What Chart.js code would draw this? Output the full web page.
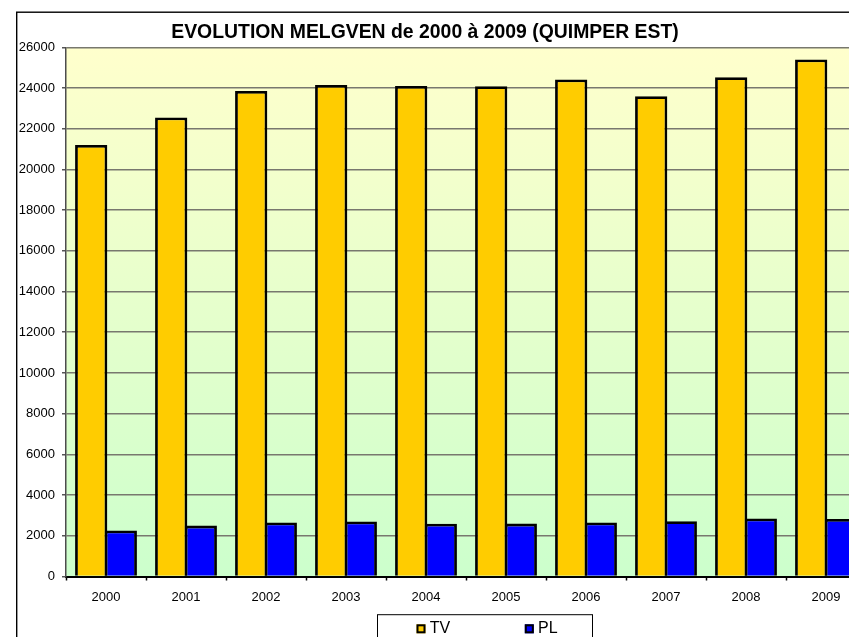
<!DOCTYPE html>
<html lang="fr">
<head>
<meta charset="utf-8">
<title>Evolution Melgven 2000 - 2009</title>
<script src="https://cdn.jsdelivr.net/npm/chart.js@4/dist/chart.umd.min.js"></script>
<style>
  html, body { margin: 0; padding: 0; background: #ffffff; }
  #frame { width: 849px; height: 637px; overflow: hidden; position: relative; }
  canvas { display: block; }
</style>
</head>
<body>
<div id="frame"><canvas id="chart" width="900" height="660"></canvas></div>
<script>
// Daily traffic counts, Melgven (Quimper Est)
const years = ['2000', '2001', '2002', '2003', '2004', '2005', '2006', '2007', '2008', '2009'];
const tvCounts = [21200, 22550, 23850, 24150, 24100, 24090, 24420, 23600, 24530, 25400]; // all vehicles
const plCounts = [2260, 2500, 2650, 2700, 2590, 2600, 2650, 2720, 2850, 2830];           // heavy goods vehicles
const yTickValues = [0, 2000, 4000, 6000, 8000, 10000, 12000, 14000, 16000, 18000, 20000, 22000, 24000, 26000];
const seriesNames = ['TV', 'PL'];
const seriesColors = ['#FFCC00', '#0000FF'];

const FONT = '"Liberation Sans", Arial, Helvetica, sans-serif';
Chart.defaults.font.family = FONT;
Chart.defaults.color = '#000000';

// Yellow-to-green fill behind the plot area (painted before grid and bars)
const plotBackground = {
  id: 'plotBackground',
  beforeDraw(chart) {
    const { ctx, chartArea: a } = chart;
    const g = ctx.createLinearGradient(0, a.top, 0, a.bottom);
    g.addColorStop(0, '#FFFFCC');
    g.addColorStop(1, '#CCFFCC');
    ctx.save();
    ctx.fillStyle = g;
    ctx.fillRect(a.left, a.top, a.right - a.left, a.bottom - a.top);
    ctx.restore();
  }
};

// Thin black frame around the whole chart
const outerFrame = {
  id: 'outerFrame',
  afterDraw(chart) {
    const { ctx, width, height } = chart;
    ctx.save();
    ctx.strokeStyle = '#000000';
    ctx.lineWidth = 1.4;
    ctx.strokeRect(16.7, 12.2, width, height);
    ctx.restore();
  }
};

// Title sits a little left of the plot centre
const TITLE_CENTER_X = 425;
const titleOffset = {
  id: 'titleOffset',
  afterLayout(chart) {
    const t = chart.titleBlock;
    if (!t) return;
    const w = t.right - t.left;
    t.left = TITLE_CENTER_X - w / 2;
    t.right = t.left + w;
  }
};

// Boxed legend under the axis
const LEGEND_BOX = { left: 377.5, top: 614.7, width: 215, firstItem: 39, itemStep: 108.3, swatch: 9, fontSize: 16 };
const boxedLegend = {
  id: 'boxedLegend',
  afterDraw(chart) {
    const { ctx } = chart;
    const L = LEGEND_BOX;
    ctx.save();
    ctx.fillStyle = '#ffffff';
    ctx.fillRect(L.left, L.top, L.width, 40);
    ctx.strokeStyle = '#000000';
    ctx.lineWidth = 1;
    ctx.strokeRect(L.left, L.top, L.width, 40);
    const baseY = L.top + 18.6;
    ctx.font = L.fontSize + 'px ' + FONT;
    ctx.textBaseline = 'alphabetic';
    ctx.textAlign = 'left';
    chart.data.datasets.forEach((ds, i) => {
      const x = L.left + L.firstItem + i * L.itemStep;
      const y = baseY - L.swatch;
      ctx.fillStyle = ds.backgroundColor;
      ctx.fillRect(x, y, L.swatch, L.swatch);
      ctx.strokeStyle = '#000000';
      ctx.lineWidth = 2;
      ctx.strokeRect(x + 1, y + 1, L.swatch - 2, L.swatch - 2);
      ctx.fillStyle = '#000000';
      ctx.fillText(ds.label, x + 13.3, baseY);
    });
    ctx.restore();
  }
};

new Chart(document.getElementById('chart'), {
  type: 'bar',
  data: {
    labels: years,
    datasets: [tvCounts, plCounts].map((values, i) => ({
      label: seriesNames[i],
      data: values,
      backgroundColor: seriesColors[i],
      borderColor: '#000000',
      borderWidth: 2.8,
      borderSkipped: 'start',
      categoryPercentage: 0.74,
      barPercentage: 1.09
    }))
  },
  options: {
    responsive: false,
    devicePixelRatio: 1,
    animation: false,
    layout: { padding: { left: 17, right: 34, top: 12, bottom: 43.5 } },
    plugins: {
      legend: { display: false },
      tooltip: { enabled: false },
      title: {
        display: true,
        text: 'EVOLUTION MELGVEN de 2000 à 2009 (QUIMPER EST)',
        color: '#000000',
        font: { family: FONT, size: 19.4, weight: 'bold' },
        padding: { top: 9, bottom: 3 }
      }
    },
    scales: {
      x: {
        offset: true,
        grid: { offset: true, drawOnChartArea: false, drawTicks: true, tickLength: 4, tickColor: '#000000', tickWidth: 1.5 },
        border: { color: '#000000', width: 2 },
        ticks: { font: { size: 13 }, padding: 9, color: '#000000', maxRotation: 0 },
        afterFit(scale) { scale.height = 40; }
      },
      y: {
        min: 0,
        max: 26000,
        afterBuildTicks(scale) { scale.ticks = yTickValues.map(v => ({ value: v })); },
        grid: { color: '#78786e', lineWidth: 1.5, tickLength: 4, tickColor: '#555555' },
        border: { color: '#4d4d4d', width: 1.5 },
        ticks: { font: { size: 13 }, padding: 7, color: '#000000', callback: v => String(v) },
        afterFit(scale) { scale.width = 49; }
      }
    }
  },
  plugins: [plotBackground, titleOffset, boxedLegend, outerFrame]
});
</script>
</body>
</html>
